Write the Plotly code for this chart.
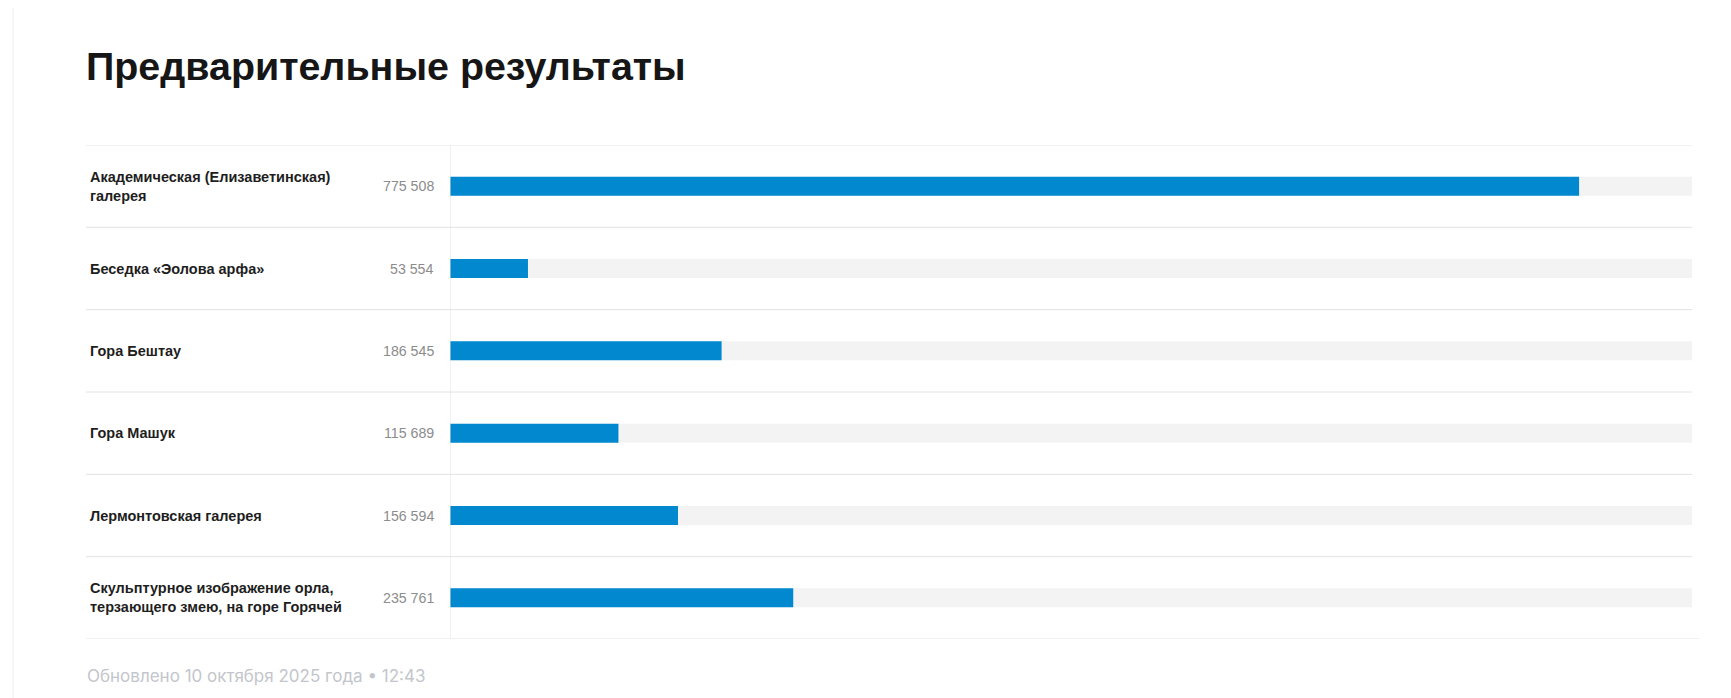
import plotly.graph_objects as go

W, H = 1731, 698
OFF = 8  # browser default body margin

title_text = "Предварительные результаты"
categories = [
    "Академическая (Елизаветинская)<br>галерея",
    "Беседка «Эолова арфа»",
    "Гора Бештау",
    "Гора Машук",
    "Лермонтовская галерея",
    "Скульптурное изображение орла,<br>терзающего змею, на горе Горячей",
]
votes = [775508, 53554, 186545, 115689, 156594, 235761]
vote_labels = ["775 508", "53 554", "186 545", "115 689", "156 594", "235 761"]
footer_text = "Обновлено 10 октября 2025 года • 12:43"

scale_max = max(votes) * 1.1

def px(x):
    return (x - OFF) / W

def py(y):
    return 1 - (y - OFF) / H

ids = list(range(len(categories)))

fig = go.Figure()
fig.add_trace(go.Bar(
    y=ids, x=[scale_max] * len(ids), orientation="h",
    marker=dict(color="#f3f3f3", line=dict(width=0)), hoverinfo="skip", showlegend=False,
))
fig.add_trace(go.Bar(
    y=ids, x=votes, orientation="h",
    marker=dict(color="#0288cf", line=dict(width=0)), showlegend=False,
    hovertemplate="%{x}<extra></extra>",
))

shapes = []
n = len(ids)
for i in range(n + 1):
    x1 = 1700 if i == n else 1692
    shapes.append(dict(type="line", xref="paper", yref="y",
                       x0=px(86), x1=px(x1), y0=i - 0.5, y1=i - 0.5,
                       line=dict(color="#e2e2e2", width=1)))
shapes.append(dict(type="line", xref="x", yref="y", x0=0, x1=0, y0=-0.5, y1=n - 0.5,
                   line=dict(color="#e2e2e2", width=1)))
shapes.append(dict(type="line", xref="paper", yref="paper", x0=px(13), x1=px(13), y0=0, y1=1,
                   line=dict(color="#eeeeee", width=1)))

annotations = []
for i, (c, v) in enumerate(zip(categories, vote_labels)):
    annotations.append(dict(xref="paper", yref="y", x=px(88), y=i, text="<b>" + c + "</b>",
                            xanchor="left", yanchor="middle", align="left", showarrow=False,
                            font=dict(family="Liberation Sans, Arial", size=14.5, color="#1e1e1e")))
    annotations.append(dict(xref="paper", yref="y", x=px(436), y=i, text=v,
                            xanchor="right", yanchor="middle", align="right", showarrow=False,
                            font=dict(family="Liberation Sans, Arial", size=14.2, color="#8c8c8c")))

annotations.append(dict(xref="paper", yref="paper", x=px(84), y=py(66), text="<b>" + title_text + "</b>",
                        xanchor="left", yanchor="middle", showarrow=False,
                        font=dict(family="Liberation Sans, Arial", size=39.4, color="#161616")))
annotations.append(dict(xref="paper", yref="paper", x=px(85), y=py(676), text=footer_text,
                        xanchor="left", yanchor="middle", showarrow=False,
                        font=dict(family="Inter, Roboto", size=17, color="#c3c6cc")))

fig.update_layout(
    width=W, height=H,
    margin=dict(l=0, r=0, t=0, b=0),
    paper_bgcolor="white", plot_bgcolor="white",
    barmode="overlay", bargap=0.77,
    xaxis=dict(domain=[px(450), px(1692)], range=[0, scale_max], showgrid=False,
               zeroline=False, showticklabels=False, showline=False, fixedrange=True),
    yaxis=dict(domain=[py(639), py(145)], range=[n - 0.5, -0.5], showgrid=False,
               zeroline=False, showticklabels=False, showline=False, fixedrange=True),
    shapes=shapes, annotations=annotations,
)

fig.write_html("out.html")
